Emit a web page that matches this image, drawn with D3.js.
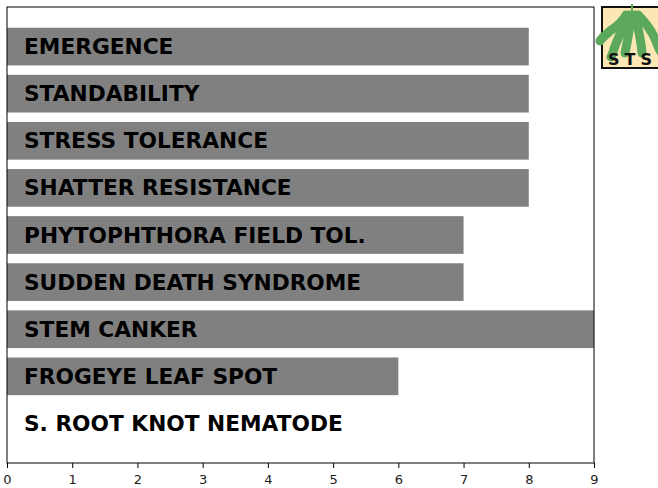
<!DOCTYPE html>
<html>
<head>
<meta charset="utf-8">
<script src="https://cdn.jsdelivr.net/npm/d3@7"></script>
<style>
  html, body { margin: 0; padding: 0; background: #fff; }
  svg { display: block; font-family: "DejaVu Sans", sans-serif; }
</style>
</head>
<body>
<svg id="chart" width="658" height="488"></svg>
<script>
// data
const traits = [
  "EMERGENCE", "STANDABILITY", "STRESS TOLERANCE", "SHATTER RESISTANCE",
  "PHYTOPHTHORA FIELD TOL.", "SUDDEN DEATH SYNDROME", "STEM CANKER",
  "FROGEYE LEAF SPOT", "S. ROOT KNOT NEMATODE"
];
const ratings = [8, 8, 8, 8, 7, 7, 9, 6, 0];
const xTicks = [0, 1, 2, 3, 4, 5, 6, 7, 8, 9];

const svg = d3.select("#chart");
const plotL = 7, plotR = 594, plotT = 7, plotB = 463;

const x = d3.scaleLinear().domain([0, 9]).range([plotL, plotR]);
// barh layout: positions 0..n-1, bar height .8, 5% margins
const n = traits.length;
const span = (n - 1) + 0.8;
const pad = span * 0.05;
const y = d3.scaleLinear().domain([-0.4 - pad, n - 1 + 0.4 + pad]).range([plotT, plotB]);

const g = svg.append("g");

g.selectAll("rect.bar").data(ratings).enter().append("rect")
  .attr("class", "bar")
  .attr("x", x(0))
  .attr("y", (d, i) => y(i - 0.4))
  .attr("width", d => x(d) - x(0))
  .attr("height", y(0.4) - y(-0.4))
  .attr("fill", "#808080");

g.selectAll("text.lbl").data(traits).enter().append("text")
  .attr("class", "lbl")
  .attr("x", 24)
  .attr("y", (d, i) => y(i) + 7.5)
  .attr("font-size", 21.7)
  .attr("font-weight", "bold")
  .attr("fill", "#000")
  .text(d => d);

// frame
g.append("rect")
  .attr("x", plotL).attr("y", plotT)
  .attr("width", plotR - plotL).attr("height", plotB - plotT)
  .attr("fill", "none").attr("stroke", "#000").attr("stroke-width", 1);

// x axis
const axis = svg.append("g")
  .attr("transform", `translate(0,${plotB})`)
  .call(d3.axisBottom(x).tickValues(xTicks).tickSize(5).tickPadding(7).tickFormat(d3.format("d")));
axis.select(".domain").remove();
axis.selectAll("text").attr("font-size", 13).attr("font-family", "DejaVu Sans").attr("fill", "#222");
axis.selectAll("line").attr("stroke", "#000");

// STS logo
const logo = svg.append("g").attr("transform", "translate(602,7)");
logo.append("rect").attr("x", 0).attr("y", 0).attr("width", 62).attr("height", 61)
  .attr("fill", "#fbe6b4").attr("stroke", "#111").attr("stroke-width", 2);
const green = "#5ca85c";
const leaves = [
  "M24,8 C20,16 14,20 8,24 C4,28 0,30 -2,34",
  "M26,8 C22,20 16,30 12,42 C11,46 10,48 9,50",
  "M29,8 C28,20 26,32 23,46",
  "M33,8 C36,20 39,32 40,46",
  "M36,8 C44,16 50,24 54,34 C56,40 58,44 60,46"
];
logo.selectAll("path.leaf").data(leaves).enter().append("path")
  .attr("class", "leaf").attr("d", d => d)
  .attr("fill", "none").attr("stroke", green)
  .attr("stroke-width", 9).attr("stroke-linecap", "round");
logo.append("path").attr("fill", "none").attr("stroke", green).attr("stroke-width", 2)
  .attr("d", "M30,-3 L30,8");
logo.append("text").attr("x", 6).attr("y", 58)
  .attr("font-family", "DejaVu Sans").attr("font-weight", "bold").attr("font-size", 16)
  .attr("letter-spacing", 5).attr("fill", "#111").text("STS");
</script>
</body>
</html>
